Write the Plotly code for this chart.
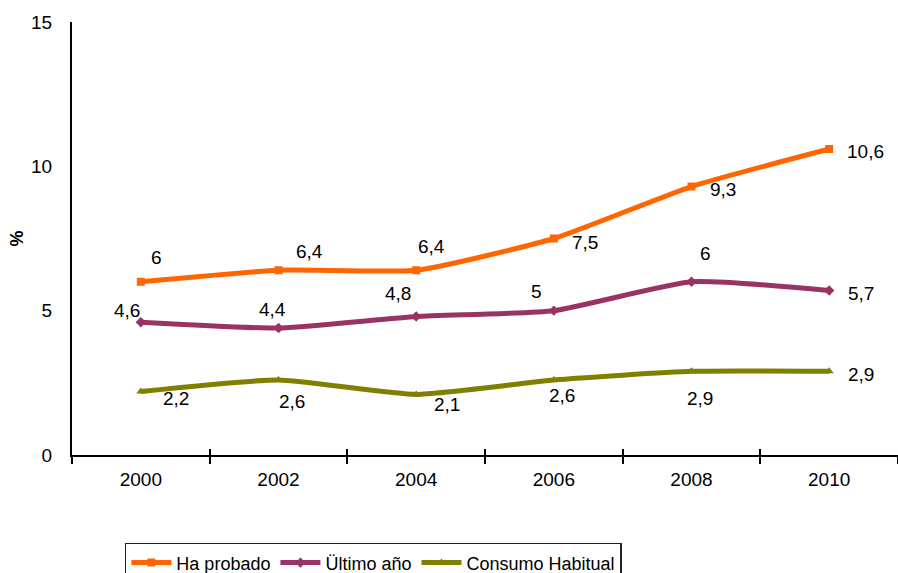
import plotly.graph_objects as go

# Survey years and prevalence (%) for each consumption indicator
years = ["2000", "2002", "2004", "2006", "2008", "2010"]
ha_probado = [6.0, 6.4, 6.4, 7.5, 9.3, 10.6]
ultimo_ano = [4.6, 4.4, 4.8, 5.0, 6.0, 5.7]
consumo_habitual = [2.2, 2.6, 2.1, 2.6, 2.9, 2.9]

series = [
    ("Ha probado", ha_probado, "#FF6600", "square"),
    ("Ültimo año", ultimo_ano, "#993366", "diamond"),
    ("Consumo Habitual", consumo_habitual, "#808000", "triangle-up"),
]

# Per-point label offsets (pixels, x right / y up) for each series
label_offsets = [
    [(16, 24), (31, 19), (15, 24), (31, -3.5), (31, -2.5), (36, -2)],
    [(-14, 12), (-6, 18), (-18, 23), (-17, 19), (14, 28), (31.5, -3.5)],
    [(35, -7.5), (13, -22), (31, -10), (8, -16), (8, -27), (31.5, -3)],
]

FONT = "Liberation Sans, Arial, sans-serif"

fig = go.Figure()
annotations = []
for (name, vals, color, symbol), offs in zip(series, label_offsets):
    fig.add_trace(go.Scatter(
        x=years, y=vals, name=name, mode="lines+markers",
        line=dict(color=color, width=5, shape="spline", smoothing=0.5),
        marker=dict(symbol=symbol, size=8, color=color),
    ))
    # category axis: annotations placed by category index
    for i, (v, (dx, dy)) in enumerate(zip(vals, offs)):
        annotations.append(dict(
            x=i, y=v, xref="x", yref="y",
            text=f"{v:g}".replace(".", ","),
            showarrow=False, xshift=dx, yshift=dy,
            xanchor="center", yanchor="middle",
            font=dict(family=FONT, size=19, color="#000000"),
        ))

# empty companion trace on an overlaid axis that draws the inner half of the tick marks
fig.add_trace(go.Scatter(
    x=years, y=[None] * len(years), xaxis="x2", mode="lines",
    showlegend=False, hoverinfo="skip",
))

annotations.append(dict(
    x=-0.0666, y=0.5, xref="paper", yref="paper", text="<b>%</b>",
    xanchor="center", yanchor="middle",
    showarrow=False, textangle=-90,
    font=dict(family=FONT, size=18, color="#000000"),
))

fig.update_layout(
    width=898, height=573,
    margin=dict(l=72, r=0, t=22, b=118, autoexpand=False),
    paper_bgcolor="white", plot_bgcolor="white",
    font=dict(family=FONT, size=19, color="#000000"),
    showlegend=True,
    legend=dict(
        orientation="h", x=0.064, y=-0.203, xanchor="left", yanchor="top",
        bordercolor="#222222", borderwidth=1.5,
        font=dict(family=FONT, size=18, color="#000000"),
        itemwidth=40, tracegroupgap=0,
    ),
    annotations=annotations,
    xaxis=dict(
        type="category", range=[-0.5, 5.5],
        showline=True, linecolor="#000000", linewidth=2,
        ticks="outside", tickson="boundaries", ticklen=7, tickwidth=1.5,
        tickcolor="#000000", showgrid=False, zeroline=False,
        ticklabelstandoff=6,
    ),
    xaxis2=dict(
        type="category", range=[-0.5, 5.5], overlaying="x", anchor="y",
        side="bottom", showline=False, showticklabels=False,
        ticks="inside", tickson="boundaries", ticklen=6, tickwidth=1.5,
        tickcolor="#000000", showgrid=False, zeroline=False,
    ),
    yaxis=dict(
        range=[0, 15], tickvals=[0, 5, 10, 15],
        showline=True, linecolor="#000000", linewidth=2,
        ticks="", showgrid=False, zeroline=False,
        ticklabelstandoff=14,
    ),
)

fig.write_html("out.html")
